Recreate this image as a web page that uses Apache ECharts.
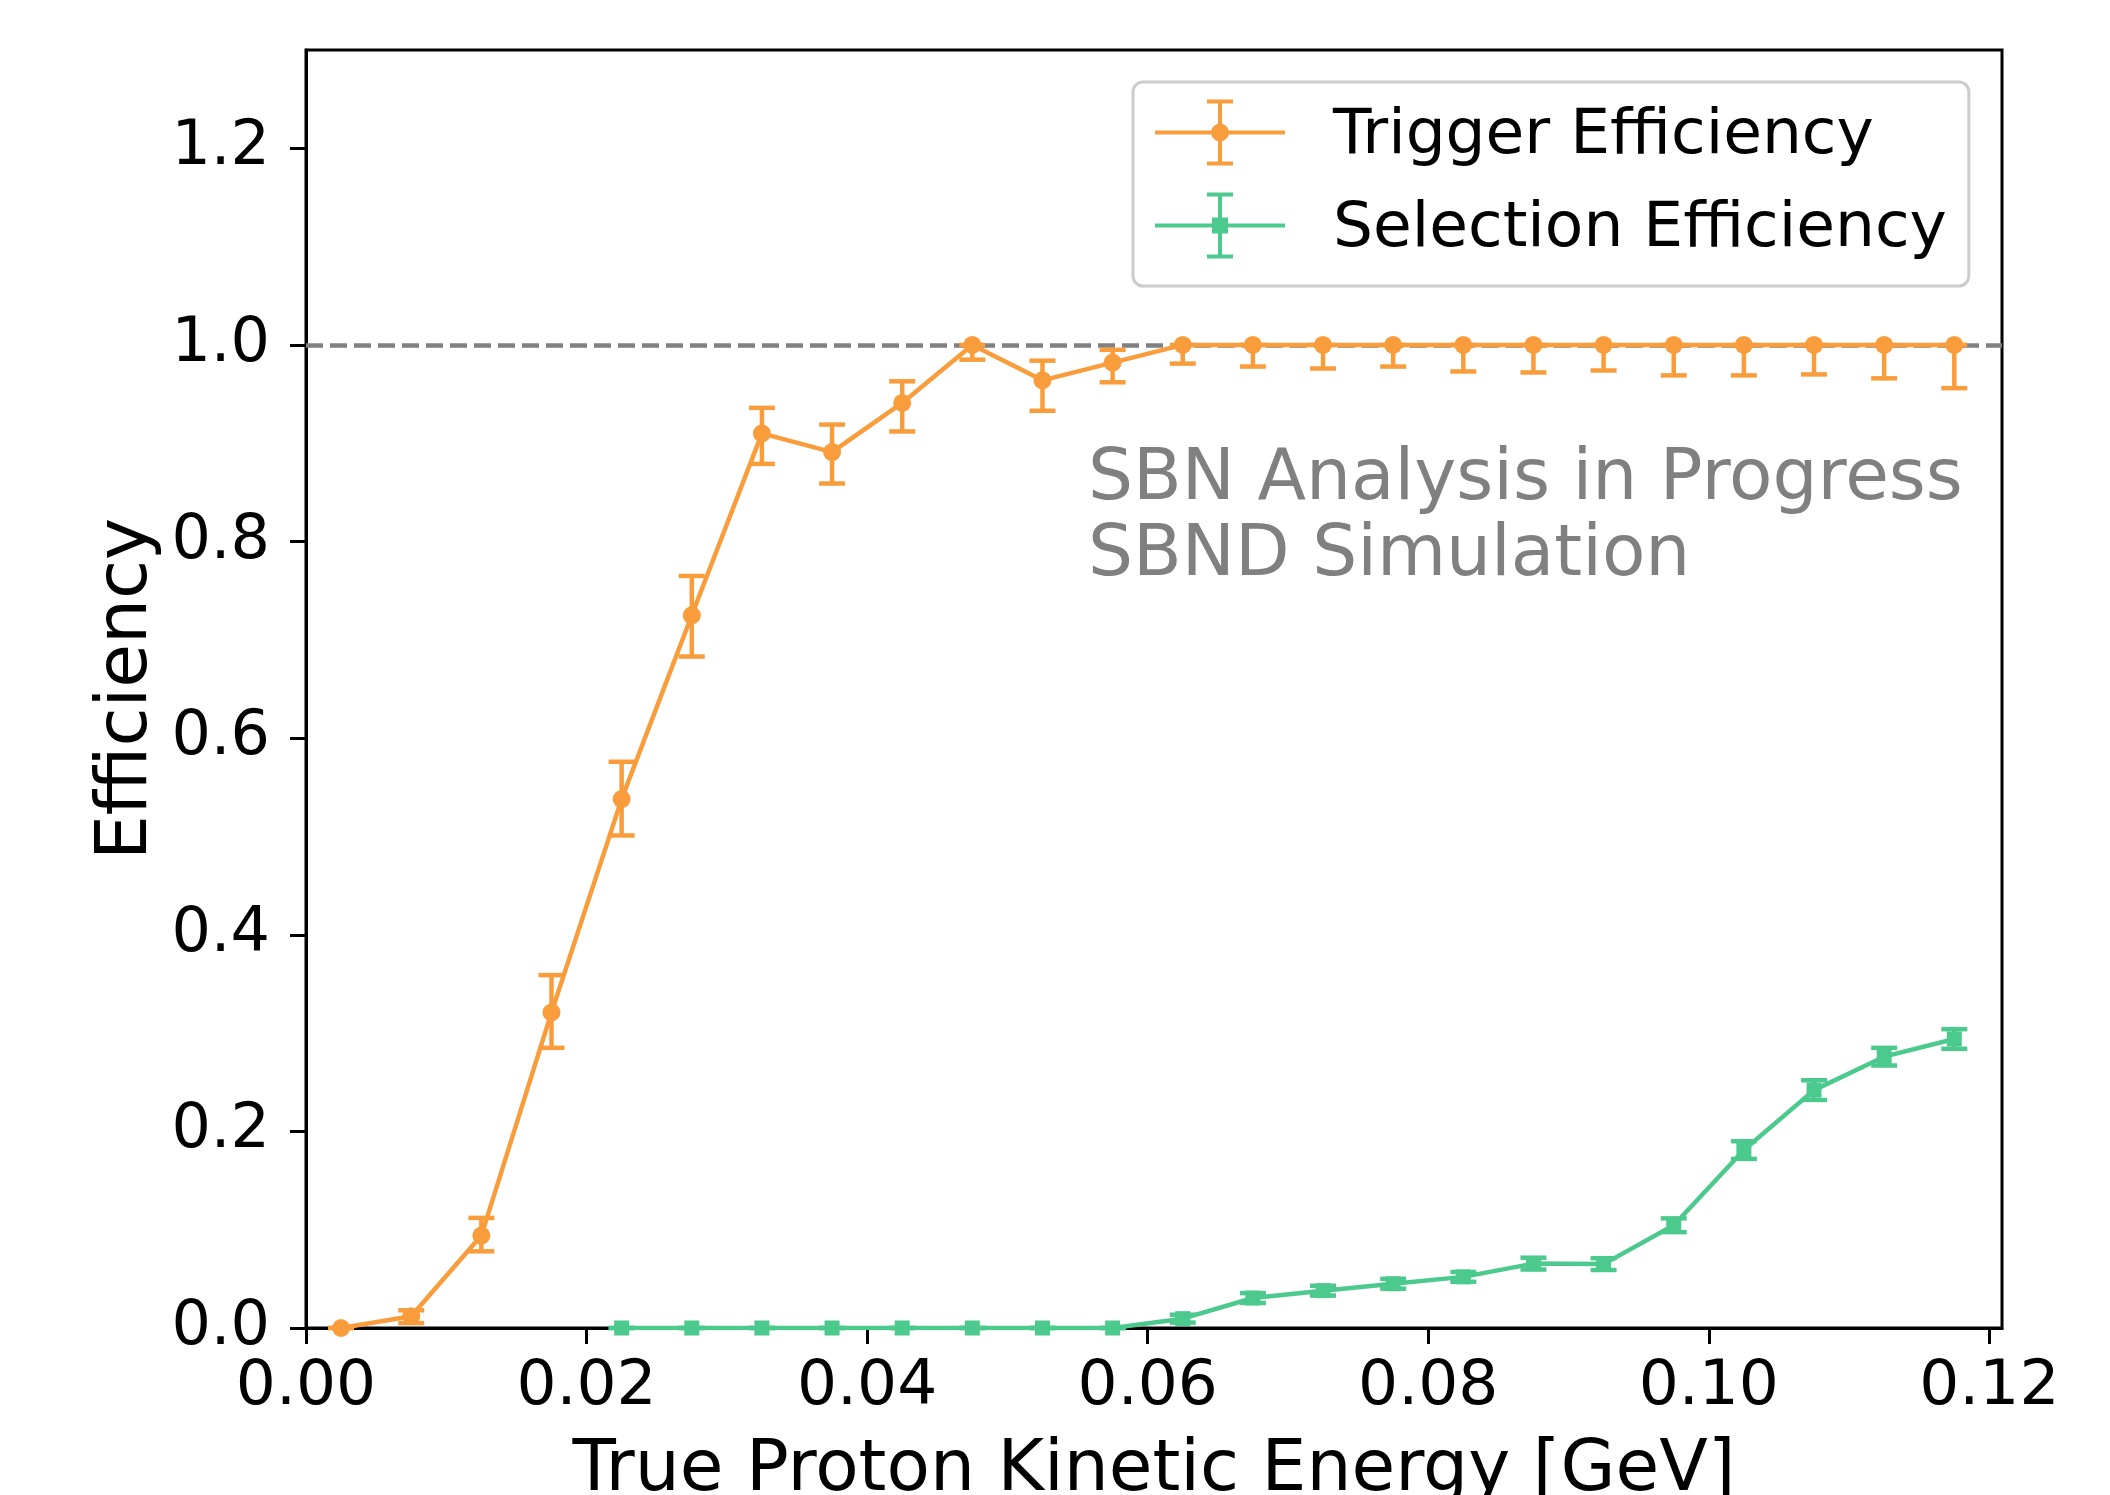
<!DOCTYPE html>
<html>
<head>
<meta charset="utf-8">
<title>Trigger and Selection Efficiency</title>
<script src="https://cdn.jsdelivr.net/npm/echarts@6/dist/echarts.min.js"></script>
<style>
  html, body { margin: 0; padding: 0; background: #fff; }
  #container { width: 2110px; height: 1495px; }
</style>
</head>
<body>
<div id="container"></div>
<script>
// bin centres, GeV
var energyGeV = [0.0025, 0.0075, 0.0125, 0.0175, 0.0225, 0.0275, 0.0325, 0.0375,
                 0.0425, 0.0475, 0.0525, 0.0575, 0.0625, 0.0675, 0.0725, 0.0775,
                 0.0825, 0.0875, 0.0925, 0.0975, 0.1025, 0.1075, 0.1125, 0.1175];

var triggerEff     = [0.0, 0.012, 0.094, 0.321, 0.538, 0.725, 0.910, 0.891,
                      0.941, 1.0, 0.964, 0.982, 1.0, 1.0, 1.0, 1.0,
                      1.0, 1.0, 1.0, 1.0, 1.0, 1.0, 1.0, 1.0];
var triggerErrLow  = [0.0, 0.007, 0.016, 0.036, 0.037, 0.042, 0.031, 0.032,
                      0.029, 0.015, 0.031, 0.020, 0.019, 0.022, 0.024, 0.022,
                      0.027, 0.028, 0.026, 0.031, 0.031, 0.030, 0.034, 0.044];
var triggerErrHigh = [0.0, 0.006, 0.018, 0.038, 0.038, 0.040, 0.026, 0.028,
                      0.022, 0.0, 0.020, 0.013, 0.0, 0.0, 0.0, 0.0,
                      0.0, 0.0, 0.0, 0.0, 0.0, 0.0, 0.0, 0.0];

var selectionEff = [null, null, null, null, 0.0, 0.0, 0.0, 0.0,
                    0.0, 0.0, 0.0, 0.0, 0.0095, 0.0305, 0.038, 0.045,
                    0.052, 0.0655, 0.065, 0.1045, 0.181, 0.242, 0.276, 0.294];
var selectionErr = [null, null, null, null, 0.0, 0.0, 0.0, 0.0,
                    0.0, 0.0, 0.0, 0.0, 0.004, 0.005, 0.005, 0.005,
                    0.005, 0.006, 0.006, 0.007, 0.009, 0.010, 0.009, 0.010];

var xTicks = [0, 0.02, 0.04, 0.06, 0.08, 0.10, 0.12];
var yTicks = [0, 0.2, 0.4, 0.6, 0.8, 1.0, 1.2];

var orange = '#f99d3c';
var green = '#4cc98c';
var font = 'DejaVu Sans';

function points(vals) {
  var out = [];
  for (var i = 0; i < energyGeV.length; i++) {
    if (vals[i] != null) out.push([energyGeV[i], vals[i]]);
  }
  return out;
}

function bars(vals, lo, hi) {
  var out = [];
  for (var i = 0; i < energyGeV.length; i++) {
    if (vals[i] != null) out.push([energyGeV[i], vals[i] - lo[i], vals[i] + hi[i]]);
  }
  return out;
}

function errorBar(color) {
  return function (params, api) {
    var x = api.value(0);
    var lo = api.coord([x, api.value(1)]);
    var hi = api.coord([x, api.value(2)]);
    var st = { stroke: color, lineWidth: 4.5 };
    var c = 13;
    return {
      type: 'group',
      children: [
        { type: 'line', shape: { x1: lo[0], y1: lo[1], x2: hi[0], y2: hi[1] }, style: st },
        { type: 'line', shape: { x1: lo[0] - c, y1: lo[1], x2: lo[0] + c, y2: lo[1] }, style: st },
        { type: 'line', shape: { x1: hi[0] - c, y1: hi[1], x2: hi[0] + c, y2: hi[1] }, style: st }
      ]
    };
  };
}

// legend handles: line + errorbar + marker
var iconBase = 'M0 31H130V35H0Z M63 0H67V66H63Z M52 0H78V4H52Z M52 62H78V66H52Z ';
var iconCircle = 'path://' + iconBase + 'M56 33A9 9 0 1 1 74 33A9 9 0 1 1 56 33Z';
var iconSquare = 'path://' + iconBase + 'M57 25H73V41H57Z';

var myChart = echarts.init(document.getElementById('container'));

var option = {
  backgroundColor: '#fff',
  animation: false,
  textStyle: { fontFamily: font },
  grid: {
    left: 306, right: 108, top: 50, bottom: 167,
    show: true, borderColor: '#000', borderWidth: 3,
    outerBoundsMode: 'none'
  },
  legend: {
    orient: 'vertical',
    left: 1133, top: 82,
    selectedMode: false,
    itemWidth: 130, itemHeight: 66, itemGap: 22,
    padding: [15, 22, 25, 22],
    backgroundColor: 'rgba(255,255,255,0.8)',
    borderColor: '#cccccc', borderWidth: 3, borderRadius: 10,
    itemStyle: { borderWidth: 0 },
    formatter: function (name) { return '{t|' + name + '}'; },
    textStyle: {
      fontSize: 63, color: '#000', fontFamily: font,
      rich: {
        t: {
          fontSize: 63, color: '#000', fontFamily: font,
          lineHeight: 56, padding: [8, 0, 0, 43]
        }
      }
    },
    data: [
      { name: 'Trigger Efficiency', icon: iconCircle },
      { name: 'Selection Efficiency', icon: iconSquare }
    ]
  },
  xAxis: {
    type: 'value', min: 0, max: 0.1209,
    name: 'True Proton Kinetic Energy [GeV]',
    nameLocation: 'middle', nameGap: 108, nameMoveOverlap: false,
    nameTextStyle: { fontSize: 71, color: '#000', fontFamily: font },
    axisLine: { onZero: false, lineStyle: { color: '#000', width: 3 } },
    axisTick: { length: 16, lineStyle: { color: '#000', width: 3 }, customValues: xTicks },
    axisLabel: {
      fontSize: 63, color: '#000', margin: 28, fontFamily: font,
      customValues: xTicks,
      formatter: function (v) { return v.toFixed(2); }
    },
    splitLine: { show: false }
  },
  yAxis: {
    type: 'value', min: 0, max: 1.3,
    name: 'Efficiency',
    nameLocation: 'middle', nameGap: 143, nameMoveOverlap: false,
    nameTextStyle: { fontSize: 71, color: '#000', fontFamily: font },
    axisLine: { lineStyle: { color: '#000', width: 3 } },
    axisTick: { length: 16, lineStyle: { color: '#000', width: 3 }, customValues: yTicks },
    axisLabel: {
      fontSize: 62, color: '#000', margin: 36, fontFamily: font,
      customValues: yTicks,
      formatter: function (v) { return v.toFixed(1); }
    },
    splitLine: { show: false }
  },
  series: [
    {
      name: 'Selection Efficiency',
      type: 'line',
      z: 2,
      data: points(selectionEff),
      symbol: 'rect', symbolSize: 15,
      itemStyle: { color: green },
      lineStyle: { color: green, width: 4.5 },
      markLine: {
        silent: true, symbol: 'none', z: 1,
        label: { show: false },
        lineStyle: { color: '#808080', type: [17, 7], width: 4.5 },
        data: [{ yAxis: 1.0 }]
      }
    },
    {
      name: 'selErr',
      type: 'custom',
      z: 2,
      renderItem: errorBar(green),
      encode: { x: 0, y: [1, 2] },
      data: bars(selectionEff, selectionErr, selectionErr)
    },
    {
      name: 'Trigger Efficiency',
      type: 'line',
      z: 3,
      data: points(triggerEff),
      symbol: 'circle', symbolSize: 18,
      itemStyle: { color: orange },
      lineStyle: { color: orange, width: 4.5 }
    },
    {
      name: 'trigErr',
      type: 'custom',
      z: 3,
      renderItem: errorBar(orange),
      encode: { x: 0, y: [1, 2] },
      data: bars(triggerEff, triggerErrLow, triggerErrHigh)
    }
  ],
  graphic: [
    {
      type: 'text',
      left: 1088, top: 443,
      style: {
        text: 'SBN Analysis in Progress\nSBND Simulation',
        font: '71px "DejaVu Sans"',
        fill: '#808080',
        lineHeight: 76
      }
    }
  ]
};

myChart.setOption(option);
</script>
</body>
</html>
